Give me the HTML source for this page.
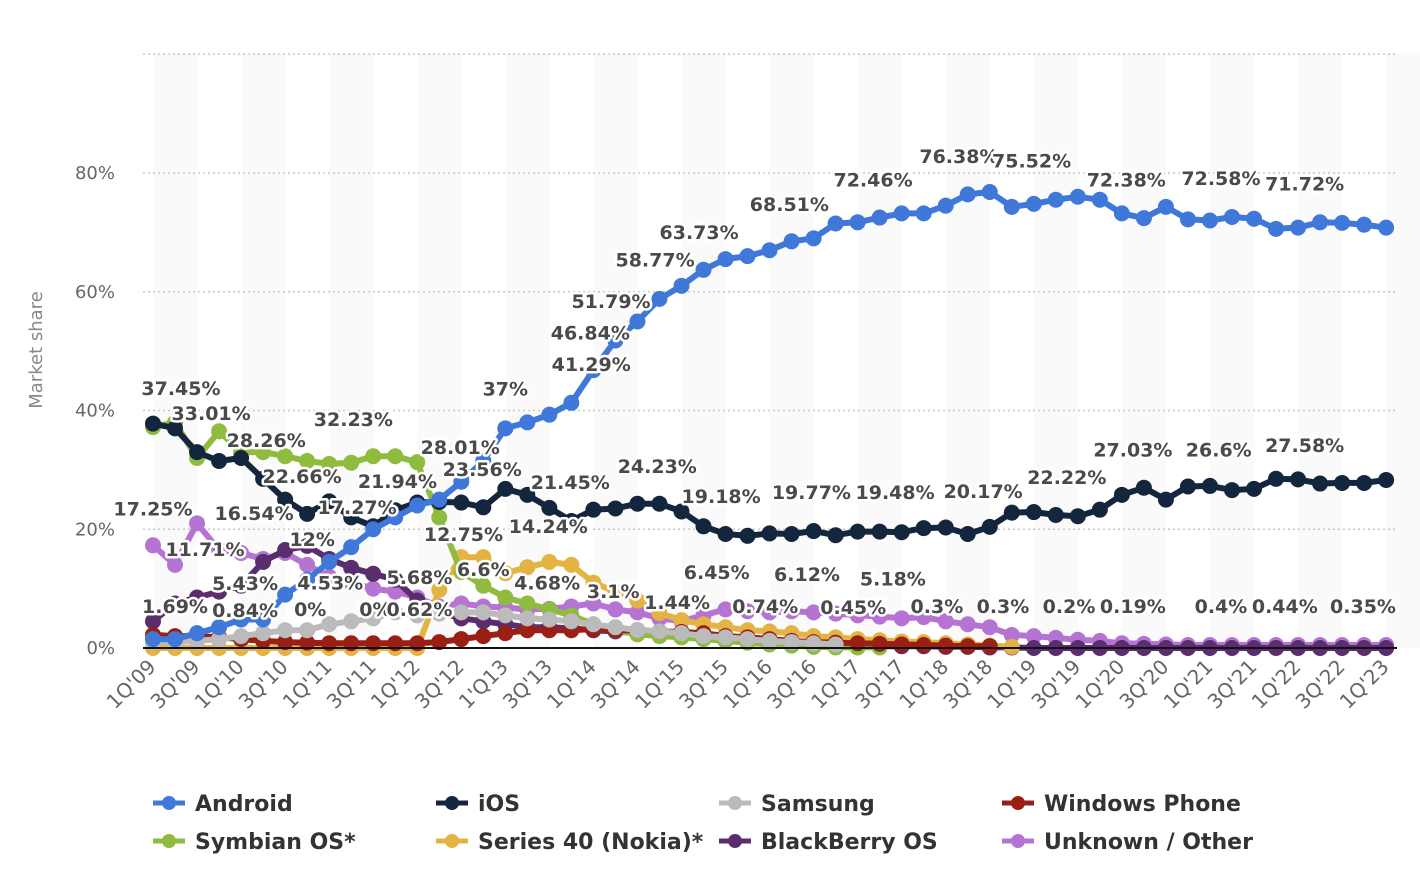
<!DOCTYPE html>
<html><head><meta charset="utf-8"><style>
body{margin:0;background:#fff;}
svg{display:block;font-family:"DejaVu Sans","Liberation Sans",sans-serif;}
.lbl{font-weight:bold;font-size:19px;fill:#4a4a4a;stroke:#fff;stroke-width:5px;paint-order:stroke;stroke-linejoin:round;text-anchor:middle;dominant-baseline:central;}
.tick{font-size:18px;fill:#666;}
.xt{font-size:20px;fill:#666;}
.leg{font-weight:bold;font-size:22px;fill:#333;}
</style></head><body>
<svg id="chart" width="1420" height="894" viewBox="0 0 1420 894" xmlns="http://www.w3.org/2000/svg">
<g id="bands"></g>
<g id="grid"></g>
<g id="yaxis"></g>
<text class="tick" style="fill:#888" transform="translate(42,350) rotate(-90)" text-anchor="middle">Market share</text>
<g id="series"></g>
<line x1="143" x2="1397" y1="648" y2="648" stroke="#111" stroke-width="2"/>
<g id="labels"></g>
<g id="xaxis"></g>
<g id="legend"></g>
</svg>
<script>
const quarterTicks = ["1Q'09","3Q'09","1Q'10","3Q'10","1Q'11","3Q'11","1Q'12","3Q'12","1'Q13","3Q'13","1Q'14","3Q'14","1Q'15","3Q'15","1Q'16","3Q'16","1Q'17","3Q'17","1Q'18","3Q'18","1Q'19","3Q'19","1Q'20","3Q'20","1Q'21","3Q'21","1Q'22","3Q'22","1Q'23"];
const yTicks = [0,20,40,60,80,100];
const yTickLabels = ["0%","20%","40%","60%","80%",""];
const seriesNames = ["Unknown / Other","BlackBerry OS","Series 40 (Nokia)*","Symbian OS*","Windows Phone","Samsung","iOS","Android"];
const seriesColors = ["#b574d4","#5a2d6e","#e3b443","#8fbb3e","#9a2015","#bbbbbb","#14263d","#3f78d8"];
const android = [1.5,1.5,2.5,3.5,4.8,4.8,9,11.5,14.5,17,20,22,24,25,28,31.5,37,38,39.3,41.3,46.8,51.8,55,58.8,61,63.7,65.5,66,67,68.5,69,71.5,71.7,72.5,73.2,73.2,74.5,76.4,76.8,74.3,74.8,75.5,76,75.5,73.2,72.4,74.3,72.2,72,72.6,72.3,70.6,70.8,71.7,71.6,71.3,70.8];
const ios = [37.8,37,33,31.5,32,28.5,25,22.6,24.7,22,20.5,23.2,24.5,24.6,24.5,23.7,26.8,25.8,23.6,21.4,23.3,23.5,24.3,24.3,23,20.5,19.2,18.9,19.3,19.2,19.7,19,19.6,19.6,19.5,20.2,20.3,19.2,20.4,22.8,22.9,22.4,22.2,23.3,25.8,27,25,27.2,27.3,26.6,26.8,28.5,28.4,27.7,27.8,27.8,28.3];
const symbian = [37.2,38,32,36.5,33,33,32.3,31.5,31,31.2,32.3,32.3,31.3,22,12.8,10.5,8.5,7.5,6.5,5.5,4,3,2.3,2,1.8,1.5,1.2,0.9,0.6,0.4,0.2,0.1,0.1,0.1];
const samsung = [1,1,1.2,1.5,2,2.5,3,3,4,4.5,5,6,5.5,5.8,6,6,5.5,5,4.8,4.5,4,3.5,3,2.8,2.5,2,1.8,1.5,1.2,1,0.8,0.6];
const windowsPhone = [2.2,2,2,1.8,1.5,1.2,1,0.9,0.8,0.8,0.8,0.8,0.8,1,1.5,2,2.5,3,3,3,3.2,3,3,2.8,2.7,2.5,2,1.8,1.5,1.2,1,0.9,0.8,0.7,0.6,0.5,0.4,0.3,0.3];
const series40 = [0,0,0,0,0,0,0,0,0,0,0,0,0,9.8,15.3,15.3,12.6,13.6,14.5,14,11,9.5,8,5.9,4.7,4,3.5,3,2.8,2.5,2,1.8,1.5,1.3,1.1,1,0.8,0.6,0.4,0.2];
const blackberry = [4.5,7.5,8.5,9.5,10.5,14.5,16.5,17.2,15,13.5,12.5,11.5,8,6,5,4.5,4,3.5,3.5,3.3,3,2.8,2.5,2.2,2,1.8,1.5,1.2,1,0.8,0.6,0.5,0.4,0.3,0.3,0.3,0.2,0.2,0.1,0.1,0,0,0,0,0,0,0,0,0,0,0,0,0,0,0,0,0];
const unknown = [17.3,14,21,16.5,16,15,16,14,12,11,10,9.5,8.5,7,7.5,7,6.8,6.5,6.6,7,7.5,6.5,6,5,4.5,5.5,6.5,6.2,6,6.2,6,5.8,5.5,5.3,5,5.2,4.5,4,3.5,2.2,2,1.7,1.4,1.2,0.8,0.7,0.6,0.5,0.5,0.5,0.5,0.5,0.5,0.5,0.5,0.5,0.5];
const allSeries = [unknown,blackberry,series40,symbian,windowsPhone,samsung,ios,android];
const labelTexts = ["37.45%","33.01%","28.26%","22.66%","17.25%","16.54%","12%","11.71%","5.43%","1.69%","0.84%","4.53%","0%","0%","0.62%","5.68%","32.23%","21.94%","17.27%","28.01%","23.56%","12.75%","6.6%","37%","41.29%","46.84%","51.79%","58.77%","63.73%","68.51%","72.46%","76.38%","75.52%","72.38%","72.58%","71.72%","21.45%","14.24%","4.68%","24.23%","3.1%","19.18%","1.44%","6.45%","0.74%","19.77%","6.12%","0.45%","19.48%","5.18%","20.17%","22.22%","0.3%","0.3%","0.2%","0.19%","0.4%","0.44%","0.35%","27.03%","26.6%","27.58%"];
const labelIdx = [1.27,2.64,5.14,6.77,0,4.59,7.23,2.36,4.18,1,4.18,8.05,7.14,10.1,12.1,12.1,9.1,11.1,9.27,13.95,14.95,14.1,15,16,19.9,19.86,20.8,22.8,24.8,28.9,32.7,36.6,39.9,44.2,48.5,52.3,18.95,17.95,17.9,22.9,20.9,25.8,23.8,25.6,27.8,29.9,29.7,31.8,33.7,33.6,37.7,41.5,35.6,38.6,41.6,44.5,48.5,51.4,54.95,44.5,48.4,52.3];
const labelVal = [43.6,39.4,34.9,28.8,23.3,22.6,18.2,16.5,10.8,6.9,6.2,10.9,6.4,6.4,6.4,11.8,38.4,28,23.6,33.7,30,19,13.1,43.5,47.7,53,58.3,65.3,69.9,74.6,78.7,82.7,81.9,78.7,79,78.1,27.8,20.4,10.9,30.5,9.4,25.4,7.6,12.6,6.9,26.1,12.3,6.7,26.1,11.5,26.3,28.6,6.9,6.9,6.9,6.9,6.9,6.9,6.9,33.3,33.3,34];
const legendOrder = ["Android","iOS","Samsung","Windows Phone","Symbian OS*","Series 40 (Nokia)*","BlackBerry OS","Unknown / Other"];

const NS = "http://www.w3.org/2000/svg";
const X = i => 153 + i * 22.02;
const Y = v => 648 - v * 5.9375;
function mk(tag, attrs, parent){const e=document.createElementNS(NS,tag);for(const k in attrs)e.setAttribute(k,attrs[k]);parent.appendChild(e);return e;}

const bands=document.getElementById('bands');
for(let i=0;i<57;i+=4){
  const r=mk('rect',{x:X(i),y:53,width:X(i+2)-X(i),height:595,fill:'#fafafa'},bands);
  
  
}
const grid=document.getElementById('grid'), yax=document.getElementById('yaxis');
yTicks.forEach((t,k)=>{
  if(t>0){const l=mk('line',{x1:143,x2:1397,y1:Y(t),y2:Y(t),stroke:'#c8c8c8','stroke-width':1.5,'stroke-dasharray':'2 3'},grid);
  
  }
  const tx=mk('text',{x:115,y:Y(t)+6,'text-anchor':'end',class:'tick'},yax);
  tx.textContent=yTickLabels[k];
  
  
});
const sg=document.getElementById('series');
allSeries.forEach((d,s)=>{
  const g=mk('g',{},sg);
  
  
  const pts=d.map((v,i)=>X(i).toFixed(1)+','+Y(v).toFixed(1)).join(' ');
  mk('polyline',{points:pts,fill:'none',stroke:seriesColors[s],'stroke-width':6,'stroke-linejoin':'round'},g);
  d.forEach((v,i)=>{
    const c=mk('circle',{cx:X(i),cy:Y(v),r:8,fill:seriesColors[s]},g);
    
    
  });
});
const lg=document.getElementById('labels');
labelTexts.forEach((t,k)=>{
  const e=mk('text',{x:X(labelIdx[k]),y:Y(labelVal[k]),class:'lbl'},lg);
  e.textContent=t;
  
  
});
const xa=document.getElementById('xaxis');
quarterTicks.forEach((t,k)=>{
  const x=X(k*2)+4, y=668;
  const e=mk('text',{x:x,y:y,'text-anchor':'end',class:'xt',transform:`rotate(-45 ${x} ${y})`},xa);
  e.textContent=t;
  
  
});
const leg=document.getElementById('legend');
legendOrder.forEach((n,k)=>{
  const s=seriesNames.indexOf(n), col=k%4, row=Math.floor(k/4);
  const x=153+col*283, y=803+row*38;
  const g=mk('g',{},leg);
  
  
  mk('line',{x1:x,x2:x+32,y1:y,y2:y,stroke:seriesColors[s],'stroke-width':5},g);
  mk('circle',{cx:x+16,cy:y,r:7,fill:seriesColors[s]},g);
  const t=mk('text',{x:x+42,y:y+8,class:'leg'},g);
  t.textContent=n;
});
</script>
</body></html>
